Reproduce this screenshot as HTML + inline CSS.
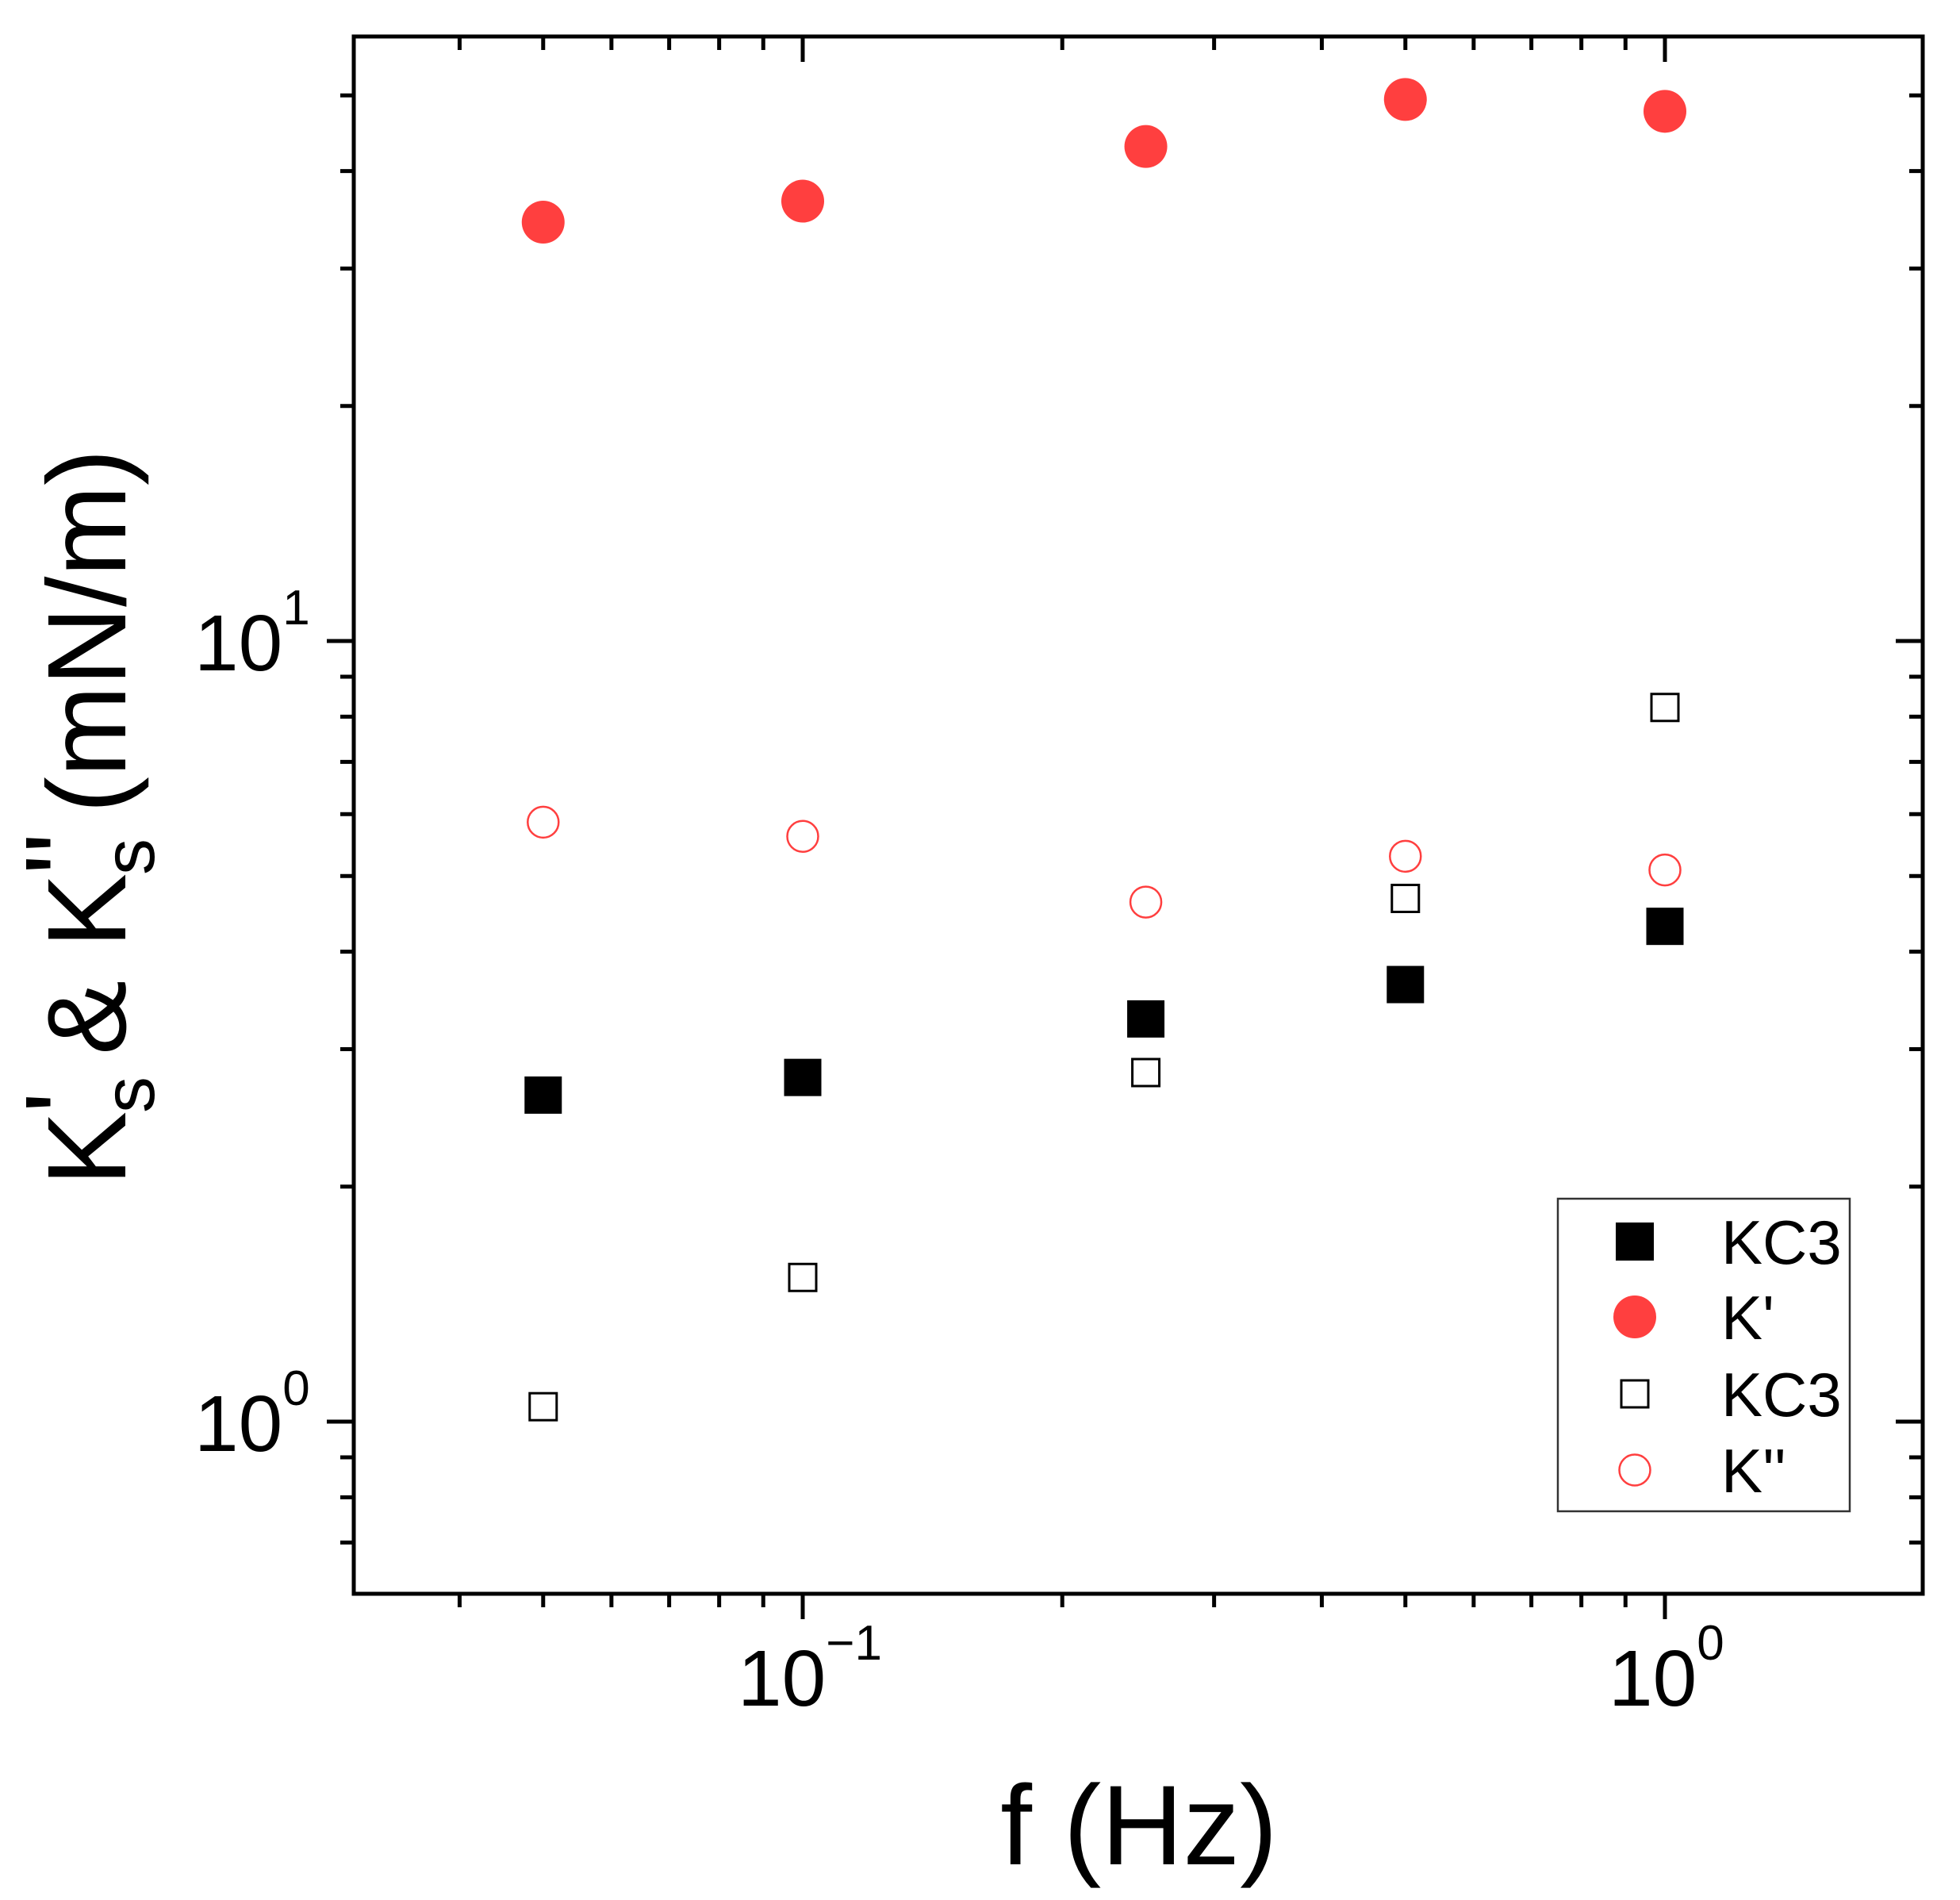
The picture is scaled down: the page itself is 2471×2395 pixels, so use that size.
<!DOCTYPE html>
<html><head><meta charset="utf-8"><style>
html,body{margin:0;padding:0;background:#fff;}
svg{display:block;font-family:"Liberation Sans",Arial,sans-serif;}
</style></head><body>
<svg id="chart" width="2471" height="2395" viewBox="0 0 2471 2395" xmlns="http://www.w3.org/2000/svg">
<rect width="2471" height="2395" fill="#fff"/>
<g id="ticks"></g>
<g id="marks"></g>
<rect x="446" y="46" width="1978" height="1963" fill="none" stroke="#000" stroke-width="5"/>
<g font-size="100">
<text x="245" y="845">10<tspan font-size="62" dy="-58">1</tspan></text>
<text x="245" y="1829">10<tspan font-size="62" dy="-58">0</tspan></text>
</g>
<g font-size="100">
<text x="930" y="2150">10<tspan font-size="62" dy="-58">−1</tspan></text>
<text x="2028" y="2150">10<tspan font-size="62" dy="-58">0</tspan></text>
</g>
<text x="1436" y="2350" font-size="143" text-anchor="middle">f (Hz)</text>
<g transform="translate(158,1495) rotate(-90)" font-size="141">
<text x="0" y="0">K</text>
<text x="92" y="36" font-size="92">s</text>
<text x="92" y="-28">'</text>
<text x="165" y="0">&amp;</text>
<text x="300" y="0">K</text>
<text x="392" y="36" font-size="92">s</text>
<text x="392" y="-28">''</text>
<text x="470" y="0" textLength="459" lengthAdjust="spacingAndGlyphs">(mN/m)</text>
</g>
<g>
<rect x="1964" y="1511" width="368" height="394" fill="#fff" stroke="#333" stroke-width="2.5"/>
<rect x="2037" y="1541" width="48" height="48" fill="#000"/>
<circle cx="2061" cy="1660" r="27" fill="#ff3f3f"/>
<rect x="2044" y="1740" width="34" height="34" fill="#fff" stroke="#000" stroke-width="3"/>
<circle cx="2061" cy="1853" r="19.5" fill="#fff" stroke="#ff3f3f" stroke-width="2.5"/>
<g font-size="78">
<text x="2170" y="1593">KC3</text>
<text x="2170" y="1688">K'</text>
<text x="2170" y="1785">KC3</text>
<text x="2170" y="1881">K''</text>
</g>
</g>
</svg>
<script>
const freqs = [0.05, 0.1, 0.25, 0.5, 1];
const kPrime = [34.4, 36.6, 43, 49.4, 47.7];
const kDoublePrime = [5.86, 5.62, 4.63, 5.3, 5.09];
const kc3Filled = [2.62, 2.76, 3.28, 3.63, 4.31];
const kc3Open = [1.045, 1.53, 2.8, 4.68, 8.22];
const xMajorTicks = [0.1, 1];
const yMajorTicks = [1, 10];

const NS = 'http://www.w3.org/2000/svg';
const X0 = 1012, XDEC = 1087; // px at 10^-1, px per decade
const Y0 = 1792, YDEC = 984;  // px at 10^0
const LEFT = 446, RIGHT = 2424, TOP = 46, BOTTOM = 2009;
function xs(v){ return X0 + (Math.log10(v) + 1) * XDEC; }
function ys(v){ return Y0 - Math.log10(v) * YDEC; }
function mk(tag, attrs, parent){ const e = document.createElementNS(NS, tag); for (const k in attrs) e.setAttribute(k, attrs[k]); parent.appendChild(e); return e; }

const tg = document.getElementById('ticks');
for (let d = -2; d <= 0; d++) {
  for (let m = 1; m <= 9; m++) {
    const v = m * Math.pow(10, d);
    const x = xs(v);
    if (x < LEFT || x > RIGHT) continue;
    const major = xMajorTicks.some(t => Math.abs(t - v) < 1e-9);
    const L = major ? 32 : 17;
    const b = mk('line', {x1:x, x2:x, y1:BOTTOM, y2:BOTTOM + L, stroke:'#000', 'stroke-width':5}, tg);
    
    
    const t = mk('line', {x1:x, x2:x, y1:TOP, y2:TOP + L, stroke:'#000', 'stroke-width':5}, tg);
    
    
  }
}
for (let d = -1; d <= 1; d++) {
  for (let m = 1; m <= 9; m++) {
    const v = m * Math.pow(10, d);
    const y = ys(v);
    if (y < TOP || y > BOTTOM) continue;
    const major = yMajorTicks.some(t => Math.abs(t - v) < 1e-9);
    const L = major ? 34 : 17;
    const l = mk('line', {x1:LEFT - L, x2:LEFT, y1:y, y2:y, stroke:'#000', 'stroke-width':5}, tg);
    
    
    const r = mk('line', {x1:RIGHT - L, x2:RIGHT, y1:y, y2:y, stroke:'#000', 'stroke-width':5}, tg);
    
    
  }
}

const mg = document.getElementById('marks');
freqs.forEach((f, i) => {
  const x = xs(f);
  const a = mk('rect', {x:x - 23.5, y:ys(kc3Filled[i]) - 23.5, width:47, height:47, fill:'#000'}, mg);
  
  
  const b = mk('circle', {cx:x, cy:ys(kPrime[i]), r:27, fill:'#ff3f3f'}, mg);
  
  
  const c = mk('rect', {x:x - 17, y:ys(kc3Open[i]) - 17, width:34, height:34, fill:'#fff', stroke:'#000', 'stroke-width':3}, mg);
  
  
  const d = mk('circle', {cx:x, cy:ys(kDoublePrime[i]), r:19.5, fill:'#fff', stroke:'#ff3f3f', 'stroke-width':2.5}, mg);
  
  
});
</script>
</body></html>
